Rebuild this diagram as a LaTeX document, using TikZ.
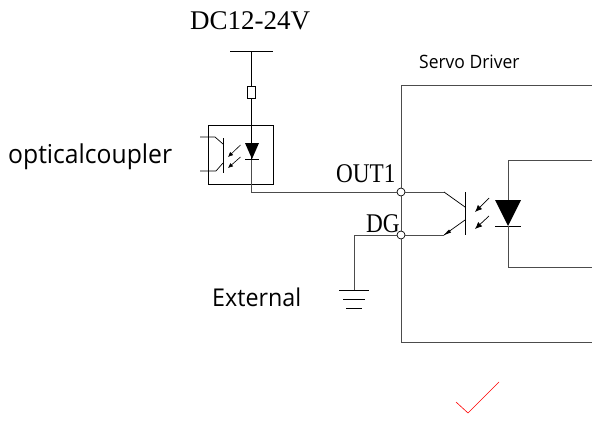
\documentclass[tikz,border=0pt]{standalone}
\usepackage{fontspec}
\setmainfont{Liberation Serif}
\newfontfamily\pinFont[FakeStretch=0.86]{Liberation Serif}
\newfontfamily\labelFont[FakeStretch=0.95]{Open Sans}
\usetikzlibrary{arrows.meta}
\definecolor{wireGray}{gray}{0.3}
\newcommand{\tikzScale}{1pt}
\tikzset{
  wire/.style={color=wireGray,line width=1pt},
  thinWire/.style={color=black,line width=0.7pt},
  lightArrow/.style={-{Latex[length=7pt,width=6pt]},line width=0.7pt},
  smallLight/.style={-{Latex[length=5pt,width=4.5pt]},line width=0.6pt},
  pin/.style={circle,draw=black,fill=white,line width=0.7pt,minimum size=8pt,inner sep=0pt},
  serifLabel/.style={font=\rmfamily\fontsize{27}{27}\selectfont,inner sep=0pt,anchor=base west},
  pinLabel/.style={font=\pinFont\fontsize{27}{27}\selectfont,inner sep=0pt,anchor=base west},
  sansLabel/.style={inner sep=0pt,anchor=base west}
}

\begin{document}
\begin{tikzpicture}[x=\tikzScale,y=-\tikzScale]
  \useasboundingbox (0,0) rectangle (592,423);

  % texts
  \node (supplyLabel) [serifLabel] at (190,30) {DC12-24V};
  \node (driverLabel) [sansLabel,font=\labelFont\fontsize{18.4}{19}\selectfont] at (419,68) {Servo Driver};
  \node (couplerLabel) [sansLabel,font=\labelFont\fontsize{26}{27}\selectfont] at (8,163) {opticalcoupler};
  \node (externalLabel) [sansLabel,font=\labelFont\fontsize{24.5}{25}\selectfont] at (212,306) {External};
  \node (outLabel) [pinLabel] at (336,182) {OUT1};
  \node (dgLabel) [pinLabel] at (366,232) {DG};

  % junctions on the driver edge
  \coordinate (supplyTop) at (251.5,51);
  \coordinate (groundTop) at (354,290);
  \node (outPin) [pin] at (401,192) {};
  \node (dgPin) [pin] at (401,235) {};

  % supply rail and series resistor
  \draw[thinWire] (230,51) -- (273,51);
  \node (resistor) [draw=black,fill=white,line width=0.7pt,minimum width=8.5pt,minimum height=12pt,inner sep=0pt] at (251.5,92) {};
  \draw[thinWire] (supplyTop) -- (resistor);

  % external coupler
  \draw[thinWire] (208,125) rectangle (273,184);
  \draw[thinWire] (resistor) -- (251.5,159);
  \draw[wire] (251.5,159) -- (251.5,192) -- (outPin);
  \fill (245,143) -- (259,143) -- (252,159) -- cycle;
  \draw[thinWire] (245,159) -- (259,159);
  \draw[thinWire] (223,138) -- (223,173);
  \draw[thinWire] (200,137) -- (215,137) -- (223,144);
  \draw[thinWire] (200,171) -- (216,171) -- (223,163);
  \draw[smallLight] (240.5,145) -- (228,157);
  \draw[smallLight] (240.5,157) -- (228,168);

  % driver frame
  \draw[wire] (592,85) -- (401,85) -- (outPin);
  \draw[wire] (outPin) -- (dgPin);
  \draw[wire] (dgPin) -- (401,342) -- (592,342);

  % transistor side
  \draw[wire] (outPin) -- (444,192);
  \draw[thinWire] (444,192) -- (465,207);
  \draw[wire] (dgPin) -- (444,235);
  \draw[thinWire] (465,220) -- (444,235);
  \fill (444,235) -- (449,229.5) -- (451,232.5) -- cycle;
  \draw[thinWire] (465,192) -- (465,235);
  \draw[lightArrow] (489,198) -- (475,212);
  \draw[lightArrow] (489,216) -- (475,229);

  % driver diode
  \fill (495,200) -- (521,200) -- (508,226) -- cycle;
  \draw[thinWire] (495,226) -- (521,226);
  \draw[wire] (592,160) -- (508,160) -- (508,200);
  \draw[wire] (508,226) -- (508,267) -- (592,267);

  % ground
  \draw[wire] (dgPin) -- (354,235) -- (groundTop);
  \draw[thinWire] (339,290) -- (369,290);
  \draw[thinWire] (343,299) -- (365,299);
  \draw[thinWire] (346,308) -- (362,308);

  % tick
  \draw[color=red,line width=0.6pt] (456,402) -- (468,413) -- (499,382);
\end{tikzpicture}
\end{document}
